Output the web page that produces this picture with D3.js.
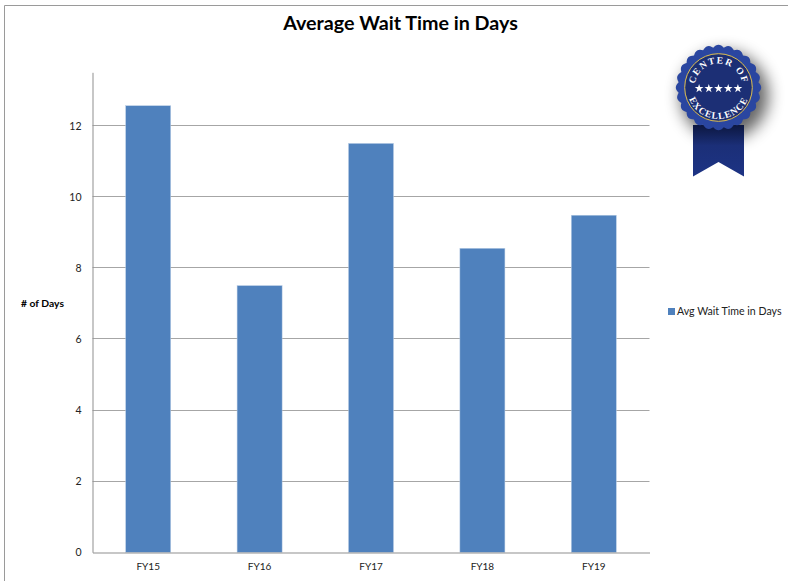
<!DOCTYPE html>
<html><head><meta charset="utf-8">
<script src="https://cdn.jsdelivr.net/npm/d3@7"></script>
<style>html,body{margin:0;padding:0;background:#fff;overflow:hidden}svg{display:block;font-family:Lato,"Open Sans",sans-serif}</style>
</head><body><div id="c"></div>
<script>
const categories = ["FY15","FY16","FY17","FY18","FY19"];
const values = [12.56,7.5,11.5,8.55,9.48];
const yTicks = [0,2,4,6,8,10,12];
const seriesName = "Avg Wait Time in Days";
const chartTitle = "Average Wait Time in Days";
const yTitle = "# of Days";
const badgeTop = "CENTER OF";
const badgeBottom = "EXCELLENCE";
const badgeStars = [-2,-1,0,1,2];

const W=788,H=581;
const svg=d3.select("#c").append("svg").attr("width",W).attr("height",H);
const defs=svg.append("defs");
const soft=defs.append("filter").attr("id","soft").attr("x","-60%").attr("y","-60%").attr("width","220%").attr("height","220%");
soft.append("feGaussianBlur").attr("stdDeviation",8);
const rg=defs.append("linearGradient").attr("id","rib").attr("x1",0).attr("y1",0).attr("x2",0).attr("y2",1);
rg.append("stop").attr("offset",0).attr("stop-color","#0c1740");
rg.append("stop").attr("offset",.4).attr("stop-color","#1b2f78");
rg.append("stop").attr("offset",1).attr("stop-color","#1d3384");

// page frame
svg.append("path").attr("d",`M4.5,${H}V5.5H${W}`).attr("fill","none").attr("stroke","#9a9a9a").attr("stroke-width",1);

const y=d3.scaleLinear().domain([0,13.5]).range([552.3,72.3]);
const x=d3.scaleBand().domain(categories).range([92.5,649.5]).paddingInner(0.596).paddingOuter(0.298);

// grid
svg.append("g").selectAll("line").data(yTicks.filter(d=>d>0)).join("line")
 .attr("x1",92.5).attr("x2",649.5).attr("y1",d=>Math.floor(y(d))+.5).attr("y2",d=>Math.floor(y(d))+.5)
 .attr("stroke","#a6a6a6");

// bars
svg.append("g").selectAll("rect").data(values).join("rect")
 .attr("x",(d,i)=>x(categories[i])).attr("width",x.bandwidth())
 .attr("y",d=>y(d)).attr("height",d=>y(0)-y(d))
 .attr("fill","#4f81bd").attr("stroke","#b9cde5").attr("stroke-width",.5);

// axes
const ay=svg.append("g").attr("transform","translate(92.5,0)").call(d3.axisLeft(y).tickValues(yTicks).tickSize(0).tickPadding(11));
ay.select(".domain").attr("stroke","#8f8f8f");
ay.selectAll("text").attr("font-size",10.5).attr("fill","#222").style("font-family","Lato");
const ax=svg.append("g").attr("transform","translate(0,552.5)").call(d3.axisBottom(x).tickSize(0).tickPadding(10));
ax.select(".domain").attr("stroke","#8f8f8f");
ax.selectAll("text").attr("font-size",10).attr("fill","#222").style("font-family","Lato");

// titles
svg.append("text").attr("x",400.5).attr("y",30).attr("text-anchor","middle").attr("font-size",19.7).attr("font-weight",700).attr("fill","#000").text(chartTitle);
svg.append("text").attr("x",42.5).attr("y",307).attr("text-anchor","middle").attr("font-size",10.3).attr("font-weight",700).attr("fill","#000").text(yTitle);

// legend
svg.append("rect").attr("x",668).attr("y",308).attr("width",7).attr("height",7).attr("fill","#4f81bd");
svg.append("text").attr("x",677).attr("y",315).attr("font-size",10.6).attr("fill","#222").text(seriesName);

// badge
const cx=718.5,cy=87.5,b=svg.append("g");
b.append("ellipse").attr("cx",cx+6).attr("cy",cy+8).attr("rx",44).attr("ry",44).attr("fill","#000").attr("opacity",.6).attr("filter","url(#soft)");
b.append("path").attr("d","M693,125H744V176.5L718.5,162L693,176.5Z").attr("fill","url(#rib)");
const n=24,pts=d3.range(n*8).map(i=>{const a=i/(n*8)*2*Math.PI;const r=40.2+2.5*Math.abs(Math.cos(a*n/2));return [cx+r*Math.sin(a),cy-r*Math.cos(a)];});
b.append("path").attr("d",d3.line().curve(d3.curveLinearClosed)(pts)).attr("fill","#2a46a0");
b.append("circle").attr("cx",cx).attr("cy",cy).attr("r",33.8).attr("fill","#1c2f75").attr("stroke","#e0c050").attr("stroke-width",1);
defs.append("path").attr("id","arcT").attr("d",`M${cx-24},${cy} A24,24 0 0 1 ${cx+24},${cy}`);
defs.append("path").attr("id","arcB").attr("d",`M${cx-31.5},${cy} A31.5,31.5 0 0 0 ${cx+31.5},${cy}`);
const bt=(id,t,fs,ls)=>b.append("text").attr("font-family","'Liberation Serif',serif").attr("font-size",fs).attr("fill","#fff").attr("font-weight",700).attr("letter-spacing",ls)
 .append("textPath").attr("href","#"+id).attr("startOffset","50%").attr("text-anchor","middle").text(t);
bt("arcT",badgeTop,9.5,1.4);
bt("arcB",badgeBottom,9.5,1);
const star=d3.symbol().type(d3.symbolStar).size(24);
b.selectAll("path.st").data(badgeStars).join("path").attr("class","st").attr("d",star)
 .attr("transform",d=>`translate(${cx+d*9.7},${cy+1})`).attr("fill","#fff");
</script></body></html>
